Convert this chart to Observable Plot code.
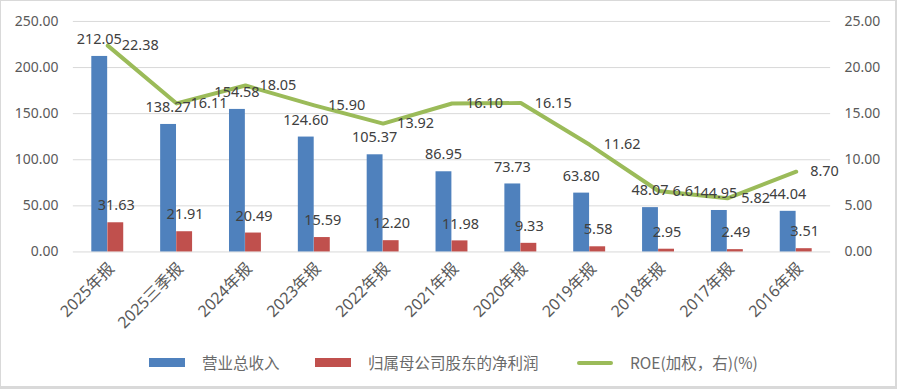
<!DOCTYPE html>
<html>
<head>
<meta charset="utf-8">
<script src="https://cdn.jsdelivr.net/npm/d3@7"></script>
<script src="https://cdn.jsdelivr.net/npm/@observablehq/plot@0.6"></script>
<style>
  html, body { margin: 0; padding: 0; background: #fff; }
  #wrap { position: relative; width: 897px; height: 389px; box-sizing: border-box;
          border-top: 1px solid #d9d9d9; border-left: 1px solid #d9d9d9;
          border-right: 2px solid #d9d9d9; border-bottom: 3px solid #d9d9d9; overflow: hidden; }
  #chart { position: absolute; left: -1px; top: -1px; }
  .leg { position: absolute; font-family: "Noto Sans CJK SC", "Noto Sans", sans-serif; font-size: 15.5px; color: #6a6a6a; white-space: nowrap; line-height: 1; }
  .sw { position: absolute; }
</style>
</head>
<body>
<div id="wrap"><div id="chart"></div></div>
<script>
const categories = ["2025年报","2025三季报","2024年报","2023年报","2022年报","2021年报","2020年报","2019年报","2018年报","2017年报","2016年报"];
const revenue = [212.05,138.27,154.58,124.60,105.37,86.95,73.73,63.80,48.07,44.95,44.04];
const netProfit = [31.63,21.91,20.49,15.59,12.20,11.98,9.33,5.58,2.95,2.49,3.51];
const roe = [22.38,16.11,18.05,15.90,13.92,16.10,16.15,11.62,6.61,5.82,8.70];
const leftTicks = [0,50,100,150,200,250];
const seriesNames = ["营业总收入","归属母公司股东的净利润","ROE(加权，右)(%)"];
const colors = ["#4F81BD","#C0504D","#9BBB59"];

const revData = categories.map((c,i)=>({cat:c, v:revenue[i]}));
const npData = categories.map((c,i)=>({cat:c, v:netProfit[i]}));
const roeData = categories.map((c,i)=>({cat:c, v:roe[i]}));
const ratio = 10; // right axis 25 -> left axis 250

const font = '"Noto Sans", "Noto Sans CJK SC", sans-serif';

const chart = Plot.plot({
  width: 897,
  height: 340,
  marginLeft: 73,
  marginRight: 65,
  marginTop: 21,
  marginBottom: 88,
  style: {fontFamily: font, fontSize: "14px", color: "#595959", background: "transparent"},
  x: {type: "band", domain: categories, padding: 0, label: null},
  y: {domain: [0, 250], label: null},
  marks: [
    Plot.ruleY(leftTicks, {stroke: "#d9d9d9", strokeWidth: 1}),
    Plot.axisY(leftTicks, {anchor: "left", tickSize: 0, tickPadding: 15, tickFormat: d => d.toFixed(2), label: null, fill: "#595959", fontSize: 14}),
    Plot.axisY(leftTicks, {anchor: "right", tickSize: 0, tickPadding: 14, tickFormat: d => (d/ratio).toFixed(2), label: null, fill: "#595959", fontSize: 14}),
    Plot.axisX({tickSize: 0, tickPadding: 14, tickRotate: -45, dx: 4, label: null, fill: "#595959", fontSize: 16}),
    Plot.barY(revData, {x: "cat", y: "v", fill: colors[0], insetLeft: 18.5, insetRight: 34.6}),
    Plot.barY(npData, {x: "cat", y: "v", fill: colors[1], insetLeft: 34.6, insetRight: 18.5}),
    Plot.line(roeData, {x: "cat", y: d => d.v * ratio, stroke: colors[2], strokeWidth: 4, strokeLinejoin: "round", strokeLinecap: "round"}),
    Plot.text(revData, {x: "cat", y: "v", text: d => d.v.toFixed(2), dx: -8.5, dy: -17, fill: "#404040", fontSize: 14.5}),
    Plot.text(npData, {x: "cat", y: "v", text: d => d.v.toFixed(2), dx: 8.5, dy: -17, fill: "#404040", fontSize: 14.5}),
    Plot.text(roeData, {x: "cat", y: d => d.v * ratio, text: d => d.v.toFixed(2), textAnchor: "start", dx: 14, fill: "#404040", fontSize: 14.5})
  ]
});
document.getElementById("chart").appendChild(chart);

// legend
const wrap = document.getElementById("wrap");
const legendPos = [
  {sw: 149, tx: 202, type: "rect"},
  {sw: 315, tx: 368, type: "rect"},
  {sw: 577, tx: 630, type: "line"}
];
seriesNames.forEach((name, i) => {
  const p = legendPos[i];
  const s = document.createElement("div");
  s.className = "sw";
  s.style.left = (p.sw - 1) + "px";
  s.style.width = "36px";
  s.style.background = colors[i];
  if (p.type === "rect") { s.style.top = "357px"; s.style.height = "9px"; }
  else { s.style.top = "360px"; s.style.height = "4px"; s.style.borderRadius = "2px"; }
  wrap.appendChild(s);
  const t = document.createElement("div");
  t.className = "leg";
  t.style.left = (p.tx - 1) + "px";
  t.style.top = "354px";
  t.textContent = name;
  wrap.appendChild(t);
});
</script>
</body>
</html>
